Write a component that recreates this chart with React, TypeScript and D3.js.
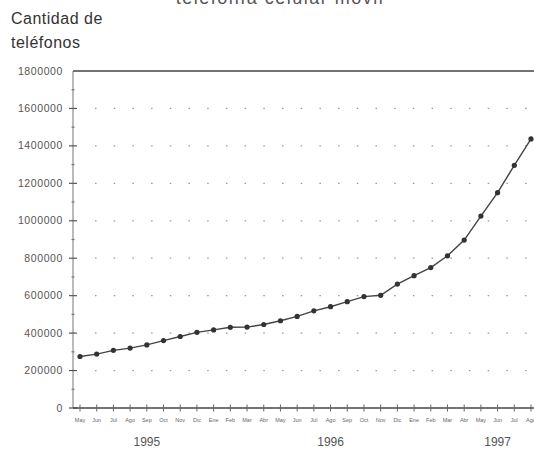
import React, { useEffect, useRef } from "react";
import * as d3 from "d3";

const monthLabels = [
  "May", "Jun", "Jul", "Ago", "Sep", "Oct", "Nov", "Dic",
  "Ene", "Feb", "Mar", "Abr", "May", "Jun", "Jul", "Ago",
  "Sep", "Oct", "Nov", "Dic", "Ene", "Feb", "Mar", "Abr",
  "May", "Jun", "Jul", "Ago",
];

const phoneCounts = [
  275000, 288000, 308000, 320000, 337000, 360000, 382000, 404000,
  417000, 431000, 432000, 446000, 466000, 489000, 519000, 541000,
  568000, 595000, 602000, 662000, 707000, 750000, 813000, 897000,
  1025000, 1150000, 1296000, 1437000,
];

const yTicks = [0, 200000, 400000, 600000, 800000, 1000000, 1200000, 1400000, 1600000, 1800000];
const yMinorTicks = [100000, 300000, 500000, 700000, 900000, 1100000, 1300000, 1500000, 1700000];

// year label and the month index it sits under
const yearLabels = ["1995", "1996", "1997"];
const yearAnchors = [4, 15, 25];

const W = 534;
const H = 451;

const App: React.FC = () => {
  const svgRef = useRef<SVGSVGElement>(null);

  useEffect(() => {
    if (!svgRef.current) return;
    const svg = d3.select(svgRef.current);
    svg.selectAll("*").remove();

    const left = 73;
    const top = 71;
    const bottom = 408;
    const font = "'Liberation Sans', Arial, Helvetica, sans-serif";

    const x = d3
      .scalePoint<number>()
      .domain(monthLabels.map((_, i) => i))
      .range([80, 531]);

    const y = d3.scaleLinear().domain([0, 1800000]).range([bottom, top]);

    svg.append("rect").attr("width", W).attr("height", H).attr("fill", "#fff");

    // Title (cut off at top of picture)
    svg
      .append("text")
      .attr("x", 280)
      .attr("y", 4)
      .attr("text-anchor", "middle")
      .style("font-family", font)
      .style("font-size", "18px")
      .style("letter-spacing", "1.5px")
      .style("fill", "#555")
      .text("telefonía celular móvil");

    // Y axis title
    const yt = svg
      .append("text")
      .style("font-family", font)
      .style("font-size", "16px")
      .style("letter-spacing", "0.5px")
      .style("fill", "#333");
    yt.append("tspan").attr("x", 11).attr("y", 24).text("Cantidad de");
    yt.append("tspan").attr("x", 11).attr("y", 48).text("teléfonos");

    // Dotted gridlines
    svg
      .append("g")
      .selectAll("line")
      .data(yTicks.filter((t) => t > 0 && t < 1800000))
      .join("line")
      .attr("x1", left + 22)
      .attr("x2", W)
      .attr("y1", (d) => y(d))
      .attr("y2", (d) => y(d))
      .attr("stroke", "#999")
      .attr("stroke-width", 1.3)
      .attr("stroke-dasharray", "1.5,17.2");

    // Top solid line
    svg
      .append("line")
      .attr("x1", left)
      .attr("x2", W)
      .attr("y1", y(1800000))
      .attr("y2", y(1800000))
      .attr("stroke", "#444")
      .attr("stroke-width", 1.6);

    // Y axis
    svg
      .append("line")
      .attr("x1", left)
      .attr("x2", left)
      .attr("y1", top)
      .attr("y2", bottom)
      .attr("stroke", "#777")
      .attr("stroke-width", 1);

    svg
      .append("g")
      .selectAll("line")
      .data(yTicks.filter((t) => t < 1800000))
      .join("line")
      .attr("x1", left - 4)
      .attr("x2", left + 4)
      .attr("y1", (d) => y(d))
      .attr("y2", (d) => y(d))
      .attr("stroke", "#555")
      .attr("stroke-width", 1.2);

    svg
      .append("g")
      .selectAll("line")
      .data(yMinorTicks)
      .join("line")
      .attr("x1", left - 1.5)
      .attr("x2", left + 1.5)
      .attr("y1", (d) => y(d))
      .attr("y2", (d) => y(d))
      .attr("stroke", "#777")
      .attr("stroke-width", 1.2);

    svg
      .append("g")
      .selectAll("text")
      .data(yTicks)
      .join("text")
      .attr("x", 63)
      .attr("y", (d) => y(d) + 3.5)
      .attr("text-anchor", "end")
      .style("font-family", font)
      .style("font-size", "10.5px")
      .style("letter-spacing", "0.6px")
      .style("fill", "#555")
      .text((d) => String(d));

    // X axis
    svg
      .append("line")
      .attr("x1", left)
      .attr("x2", W)
      .attr("y1", bottom)
      .attr("y2", bottom)
      .attr("stroke", "#444")
      .attr("stroke-width", 1.4);

    svg
      .append("g")
      .selectAll("line")
      .data(monthLabels.map((_, i) => i))
      .join("line")
      .attr("x1", (d) => x(d)!)
      .attr("x2", (d) => x(d)!)
      .attr("y1", bottom - 3.5)
      .attr("y2", bottom + 3.5)
      .attr("stroke", "#666")
      .attr("stroke-width", 1);

    svg
      .append("g")
      .selectAll("text")
      .data(monthLabels)
      .join("text")
      .attr("x", (_, i) => x(i)!)
      .attr("y", 422)
      .attr("text-anchor", "middle")
      .style("font-family", font)
      .style("font-size", "5.5px")
      .style("fill", "#666")
      .text((d) => d);

    svg
      .append("g")
      .selectAll("text")
      .data(yearLabels)
      .join("text")
      .attr("x", (_, i) => x(yearAnchors[i])!)
      .attr("y", 446)
      .attr("text-anchor", "middle")
      .style("font-family", font)
      .style("font-size", "12px")
      .style("fill", "#555")
      .text((d) => d);

    // Series line
    const line = d3
      .line<number>()
      .x((_, i) => x(i)!)
      .y((d) => y(d));

    svg
      .append("path")
      .datum(phoneCounts)
      .attr("d", line)
      .attr("fill", "none")
      .attr("stroke", "#444")
      .attr("stroke-width", 1.4);

    svg
      .append("g")
      .selectAll("circle")
      .data(phoneCounts)
      .join("circle")
      .attr("cx", (_, i) => x(i)!)
      .attr("cy", (d) => y(d))
      .attr("r", 2.6)
      .attr("fill", "#333");
  }, []);

  return (
    <svg
      ref={svgRef}
      width={W}
      height={H}
      style={{ position: "absolute", left: 0, top: 0, display: "block" }}
    />
  );
};

export default App;
